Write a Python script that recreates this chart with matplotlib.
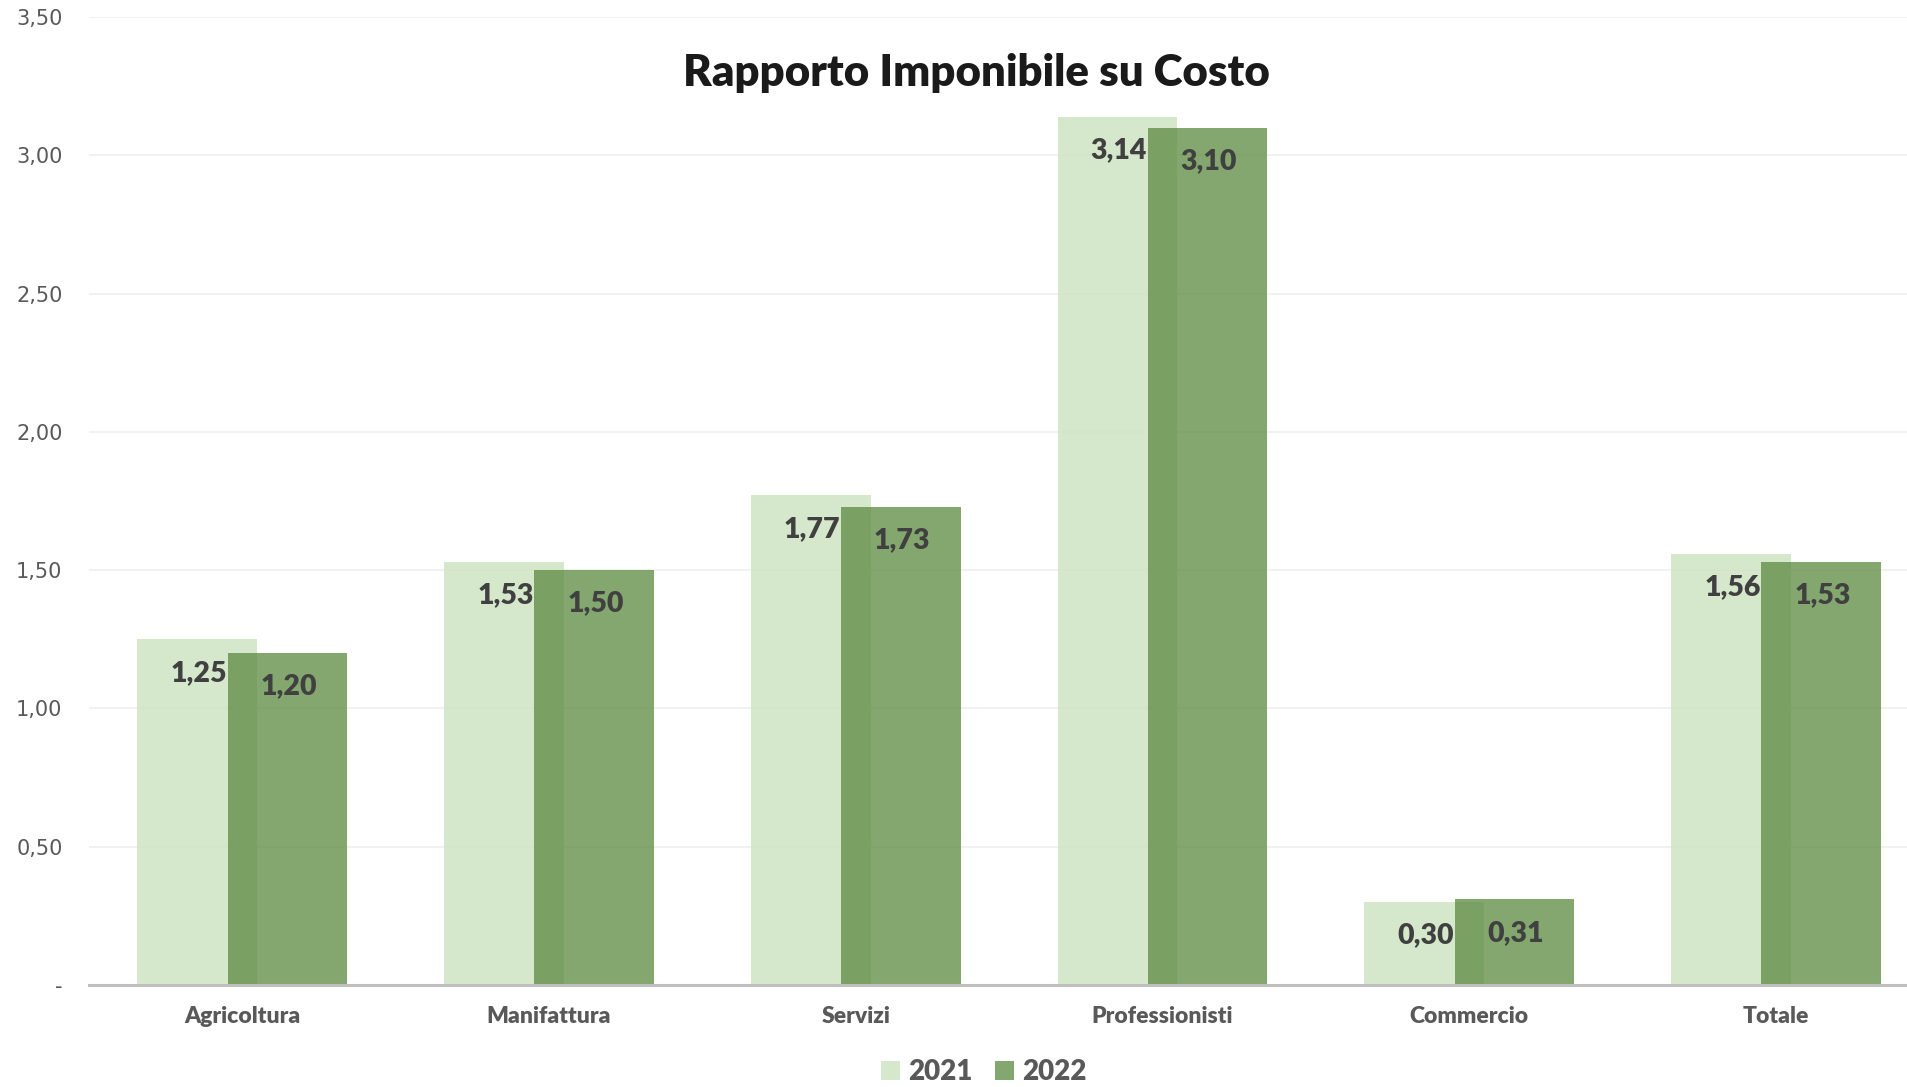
import matplotlib.pyplot as plt
import numpy as np
from matplotlib.ticker import FuncFormatter

categories = ["Agricoltura", "Manifattura", "Servizi", "Professionisti", "Commercio", "Totale"]
years = ["2021", "2022"]
values_2021 = [1.25, 1.53, 1.77, 3.14, 0.30, 1.56]
values_2022 = [1.20, 1.50, 1.73, 3.10, 0.31, 1.53]
y_ticks = [0, 0.5, 1.0, 1.5, 2.0, 2.5, 3.0, 3.5]


def it_num(v):
    # italian style decimals, zero shown as a dash
    if v == 0:
        return "-"
    return f"{v:.2f}".replace(".", ",")


fig = plt.figure(figsize=(19.08, 10.87), dpi=100)
ax = fig.add_axes([0.0466, 0.0938, 0.9534, 0.8906])

x = np.arange(len(categories))
width = 0.39
offset = 0.147

bars1 = ax.bar(x - offset, values_2021, width, color="#cfe4c2", alpha=0.85,
               label=years[0], zorder=2)
bars2 = ax.bar(x + offset, values_2022, width, color="#5e8b42", alpha=0.76,
               label=years[1], zorder=3)

# value labels inside the top of each bar
for bars in (bars1, bars2):
    for b in bars:
        ax.annotate(it_num(b.get_height()),
                    (b.get_x() + b.get_width() / 2, b.get_height()),
                    xytext=(1, -24), textcoords="offset points",
                    ha="center", va="center", fontsize=20.5,
                    fontweight="heavy", family="Lato", color="#404040",
                    zorder=5)

ax.set_xlim(-0.5, 5.43)
ax.set_ylim(0, 3.5)
ax.set_yticks(y_ticks)
ax.yaxis.set_major_formatter(FuncFormatter(lambda v, p: it_num(v)))
ax.set_xticks(x)
ax.set_xticklabels(categories, fontsize=16.5, fontweight="heavy",
                   family="Lato", color="#595959")
for lbl in ax.get_yticklabels():
    lbl.set_fontsize(15)
    lbl.set_family("DejaVu Sans")
    lbl.set_color("#595959")
ax.tick_params(axis="y", length=0, pad=19)
ax.tick_params(axis="x", length=0, pad=15)

ax.grid(axis="y", color="#efefef", linewidth=1.2, zorder=0)
ax.set_axisbelow(True)
for side in ("top", "right", "left"):
    ax.spines[side].set_visible(False)
ax.spines["bottom"].set_color("#bfbfbf")
ax.spines["bottom"].set_linewidth(2.2)
ax.spines["bottom"].set_zorder(4)

fig.text(0.512, 0.933, "Rapporto Imponibile su Costo", ha="center", va="center",
         fontsize=31.5, fontweight="heavy", family="Lato", color="#1a1a1a")

fig.legend(loc="center", bbox_to_anchor=(0.5155, 0.0138), ncol=2, frameon=False,
           prop={"family": "Lato", "weight": "heavy", "size": 20},
           labelcolor="#595959", handlelength=0.68, handleheight=0.68,
           handletextpad=0.3, columnspacing=0.8, borderpad=0)

fig.savefig("out.png", dpi=100)
